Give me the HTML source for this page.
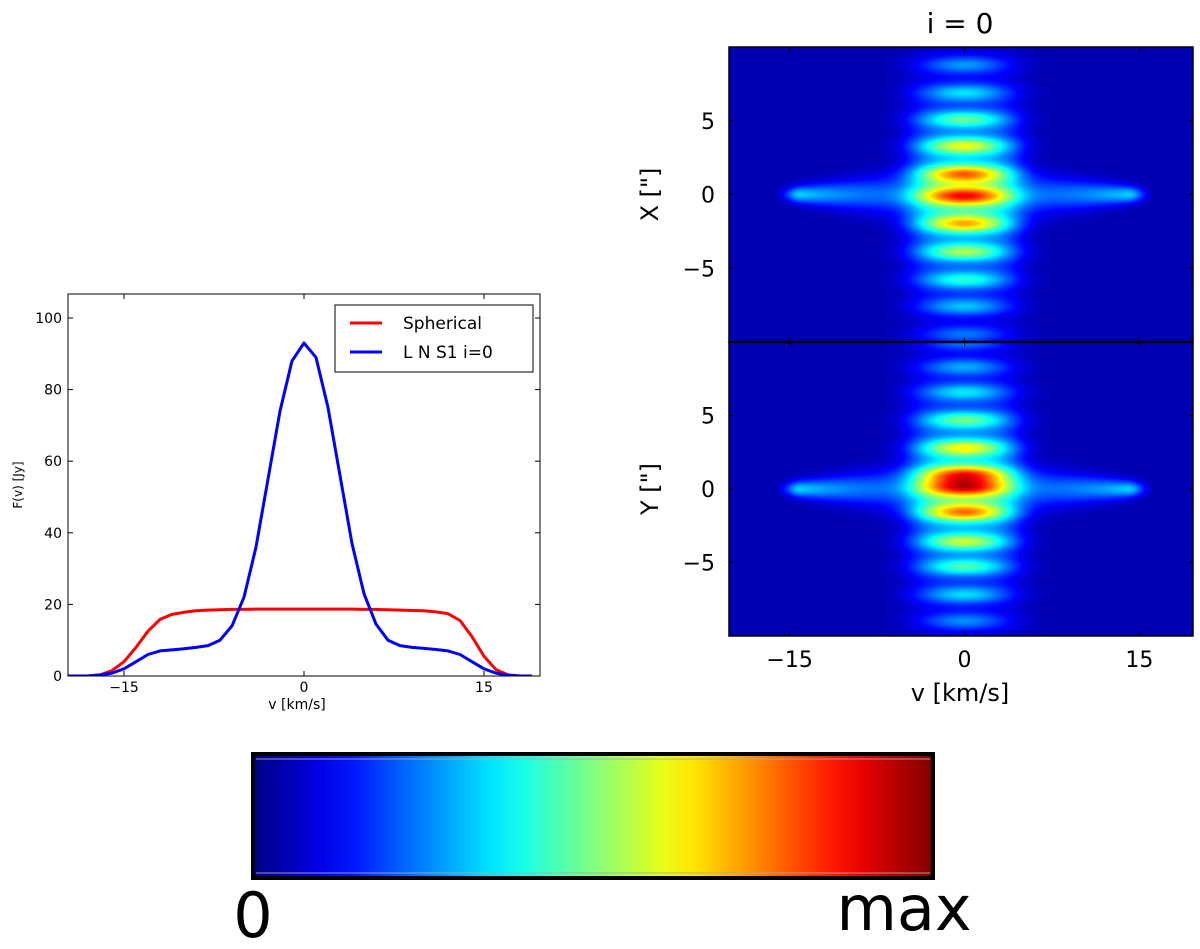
<!DOCTYPE html>
<html><head><meta charset="utf-8">
<style>
html,body{margin:0;padding:0;background:#fff;}
body{width:1200px;height:949px;position:relative;overflow:hidden;font-family:"DejaVu Sans","Liberation Sans",sans-serif;}
svg{position:absolute;left:0;top:0;}
canvas{position:absolute;}
</style></head>
<body>
<canvas id="hm1" style="left:729px;top:47px" width="464" height="295"></canvas>
<canvas id="hm2" style="left:729px;top:342px" width="464" height="294"></canvas>
<svg id="main" width="1200" height="949"></svg>
<script>
// ---- line chart data ----
const velocities = [-20,-19,-18,-17,-16,-15,-14,-13,-12,-11,-10,-9,-8,-7,-6,-5,-4,-3,-2,-1,0,1,2,3,4,5,6,7,8,9,10,11,12,13,14,15,16,17,18,19];
const sphericalFlux = [0,0,0,0.3,1.5,4,8,12.5,15.8,17.2,17.8,18.2,18.4,18.5,18.6,18.6,18.7,18.7,18.7,18.7,18.7,18.7,18.7,18.7,18.7,18.6,18.6,18.5,18.4,18.3,18.2,17.9,17.4,15.5,11,5.5,1.8,0.3,0,0];
const lnsFlux = [0,0,0,0.3,0.8,2,4,6,7,7.3,7.6,8,8.5,10,14,22,36,55,74,88,93,89,75,56,37,23,14.5,10,8.5,8,7.7,7.4,7,6,4,2,0.8,0.2,0,0];
const leftXTicks = [-15,0,15];
const leftYTicks = [0,20,40,60,80,100];
// ---- heatmap data: emission blob rows [y offset in arcsec], amplitudes ----
const xRowsY = [8.8,6.9,5.1,3.3,1.4,-0.1,-2.0,-3.9,-5.8,-7.6,-9.5];
const xRowsAmp = [0.38,0.45,0.6,0.75,0.85,0.88,0.8,0.66,0.52,0.42,0.33];
const yRowsY = [10.0,8.3,6.6,4.7,2.8,1.0,0.1,-1.6,-3.6,-5.3,-7.2,-9.0];
const yRowsAmp = [0.35,0.4,0.45,0.6,0.75,0.88,0.9,0.85,0.7,0.56,0.45,0.36];
const rightXTicks = [-15,0,15];
const rightYTicks = [5,0,-5];

const NS="http://www.w3.org/2000/svg";
const svg=document.getElementById('main');
function el(tag,attrs,parent){const e=document.createElementNS(NS,tag);for(const k in attrs)e.setAttribute(k,attrs[k]);(parent||svg).appendChild(e);return e;}
function txt(s,attrs,parent){const e=el('text',attrs,parent);e.textContent=s;return e;}

// ---- left chart ----
const L={x0:68,x1:540,y0:294,y1:676,vmin:-19.67,vmax:19.67,fmin:0,fmax:106.7};
const lx=v=>L.x0+(v-L.vmin)/(L.vmax-L.vmin)*(L.x1-L.x0);
const ly=f=>L.y1-(f-L.fmin)/(L.fmax-L.fmin)*(L.y1-L.y0);
const lg=el('g',{});


const defs=el('defs',{});
const cp=el('clipPath',{id:'lclip'},defs);el('rect',{x:L.x0,y:L.y0,width:L.x1-L.x0,height:L.y1-L.y0},cp);
function series(vals,color,name){
  const d=vals.map((f,i)=>(i?'L':'M')+lx(velocities[i]).toFixed(1)+' '+ly(f).toFixed(1)).join(' ');
  const p=el('path',{d:d,fill:'none',stroke:color,'stroke-width':3,'stroke-linejoin':'round','clip-path':'url(#lclip)'},lg);
  
  
}
series(sphericalFlux,'#f00','spherical-line');
series(lnsFlux,'#00f','lns1-line');
el('rect',{x:L.x0,y:L.y0,width:L.x1-L.x0,height:L.y1-L.y0,fill:'none',stroke:'#000','stroke-width':1},lg);
leftXTicks.forEach(t=>{const x=lx(t);
  el('line',{x1:x,x2:x,y1:L.y1,y2:L.y1-5,stroke:'#000'},lg);el('line',{x1:x,x2:x,y1:L.y0,y2:L.y0+5,stroke:'#000'},lg);
  const tt=txt(t<0?'\u2212'+(-t):String(t),{x:x,y:L.y1+16,'font-size':14,'text-anchor':'middle'},lg);
  });
leftYTicks.forEach(t=>{const y=ly(t);
  el('line',{x1:L.x0,x2:L.x0+5,y1:y,y2:y,stroke:'#000'},lg);el('line',{x1:L.x1,x2:L.x1-5,y1:y,y2:y,stroke:'#000'},lg);
  const tt=txt(String(t),{x:L.x0-6,y:y+5,'font-size':14,'text-anchor':'end'},lg);
  });
const lxl=txt('v [km/s]',{x:297,y:709,'font-size':14,'text-anchor':'middle'},lg);

const lyl=txt('F(v) [Jy]',{x:0,y:0,'font-size':12,'text-anchor':'middle',transform:'translate(22,485) rotate(-90)'},lg);

const leg=el('g',{},lg);

el('rect',{x:335,y:305,width:198,height:67,fill:'#fff',stroke:'#000','stroke-width':1},leg);
el('line',{x1:350,x2:382,y1:323,y2:323,stroke:'#f00','stroke-width':3},leg);
el('line',{x1:350,x2:382,y1:352,y2:352,stroke:'#00f','stroke-width':3},leg);
txt('Spherical',{x:403,y:329,'font-size':17},leg);
txt('L N S1 i=0',{x:403,y:358,'font-size':17},leg);

// ---- heatmaps ----
function jet(t){t=Math.max(0,Math.min(1,t));
  const r=Math.min(1,Math.max(0,Math.min(4*t-1.5,-4*t+4.5)));
  const g=Math.min(1,Math.max(0,Math.min(4*t-0.5,-4*t+3.5)));
  const b=Math.min(1,Math.max(0,Math.min(4*t+0.5,-4*t+2.5)));
  return [r*255,g*255,b*255];}
const H={vmin:-20.2,vmax:19.6,ymin:-10,ymax:10};
function drawHeat(id,rowsY,rowsAmp){
  const c=document.getElementById(id),ctx=c.getContext('2d'),W=c.width,Hh=c.height;
  const img=ctx.createImageData(W,Hh);
  for(let j=0;j<Hh;j++){const y=H.ymax-(j+0.5)/Hh*(H.ymax-H.ymin);
    for(let i=0;i<W;i++){const v=H.vmin+(i+0.5)/W*(H.vmax-H.vmin);
      let s=0.3*Math.exp(-Math.pow(v/4.8,4))*Math.exp(-Math.pow(y/6.5,2));
      for(let k=0;k<rowsY.length;k++){const dy=(y-rowsY[k])/0.6;s+=rowsAmp[k]*Math.exp(-Math.pow(v/3.6,2)-dy*dy)*0.62;}
      const av=Math.abs(v);
      if(av<16){const th=1.5*(1-av/16.5)+0.35;s+=(0.2+0.15*Math.pow(av/14,3))*Math.exp(-Math.pow(y/th,2))*(av>14?Math.exp(-Math.pow((av-14)/1.3,2)):1);}
      const t=0.05+s*0.8;const col=jet(t);const p=(j*W+i)*4;
      img.data[p]=col[0];img.data[p+1]=col[1];img.data[p+2]=col[2];img.data[p+3]=255;}}
  ctx.putImageData(img,0,0);}
drawHeat('hm1',xRowsY,xRowsAmp);
drawHeat('hm2',yRowsY,yRowsAmp);
const R={x0:729,x1:1193};
const rx=v=>R.x0+(v-H.vmin)/(H.vmax-H.vmin)*(R.x1-R.x0);
const rg=el('g',{});

[[47,342,'X [\"]'],[342,636,'Y [\"]']].forEach(([t0,t1,lab])=>{
  const ry=y=>t0+(H.ymax-y)/(H.ymax-H.ymin)*(t1-t0);
  el('rect',{x:R.x0,y:t0,width:R.x1-R.x0,height:t1-t0,fill:'none',stroke:'#000','stroke-width':1.5},rg);
  rightYTicks.forEach(t=>{const y=ry(t);
    el('line',{x1:R.x0,x2:R.x0+5,y1:y,y2:y,stroke:'#000'},rg);el('line',{x1:R.x1,x2:R.x1-5,y1:y,y2:y,stroke:'#000'},rg);
    const tt=txt(t<0?'\u2212'+(-t):String(t),{x:R.x0-14,y:y+8,'font-size':22,'text-anchor':'end'},rg);
    });
  rightXTicks.forEach(t=>{const x=rx(t);
    el('line',{x1:x,x2:x,y1:t1,y2:t1-5,stroke:'#000'},rg);el('line',{x1:x,x2:x,y1:t0,y2:t0+5,stroke:'#000'},rg);});
  const yl=txt(lab,{x:0,y:0,'font-size':24,'text-anchor':'middle',transform:'translate(658,'+((t0+t1)/2)+') rotate(-90)'},rg);
  
});
el('line',{x1:R.x0,x2:R.x1,y1:342,y2:342,stroke:'#000','stroke-width':2.5},rg);
rightXTicks.forEach(t=>{const tt=txt(t<0?'\u2212'+(-t):String(t),{x:rx(t),y:667,'font-size':22,'text-anchor':'middle'},rg);
  });
const hx=txt('v [km/s]',{x:960,y:701,'font-size':24,'text-anchor':'middle'},rg);

const ht=txt('i = 0',{x:960,y:33,'font-size':28,'text-anchor':'middle'},rg);


// ---- colorbar ----
const gr=el('linearGradient',{id:'jetg',x1:0,x2:1,y1:0,y2:0},defs);
for(let k=0;k<=20;k++){const c=jet(k/20);el('stop',{offset:k/20,'stop-color':'rgb('+c.map(Math.round).join(',')+')'},gr);}
const cb=el('g',{});

el('rect',{x:253,y:754,width:680,height:124,fill:'url(#jetg)',stroke:'#000','stroke-width':4},cb);
el('line',{x1:256,x2:930,y1:759,y2:759,stroke:'#aaa','stroke-opacity':0.6,'stroke-width':1.5},cb);
el('line',{x1:256,x2:930,y1:873,y2:873,stroke:'#aaa','stroke-opacity':0.6,'stroke-width':1.5},cb);
const c0=txt('0',{x:253,y:937,'font-size':62,'text-anchor':'middle'},cb);

const cm=txt('max',{x:904,y:930,'font-size':62,'text-anchor':'middle'},cb);

</script>
</body></html>
